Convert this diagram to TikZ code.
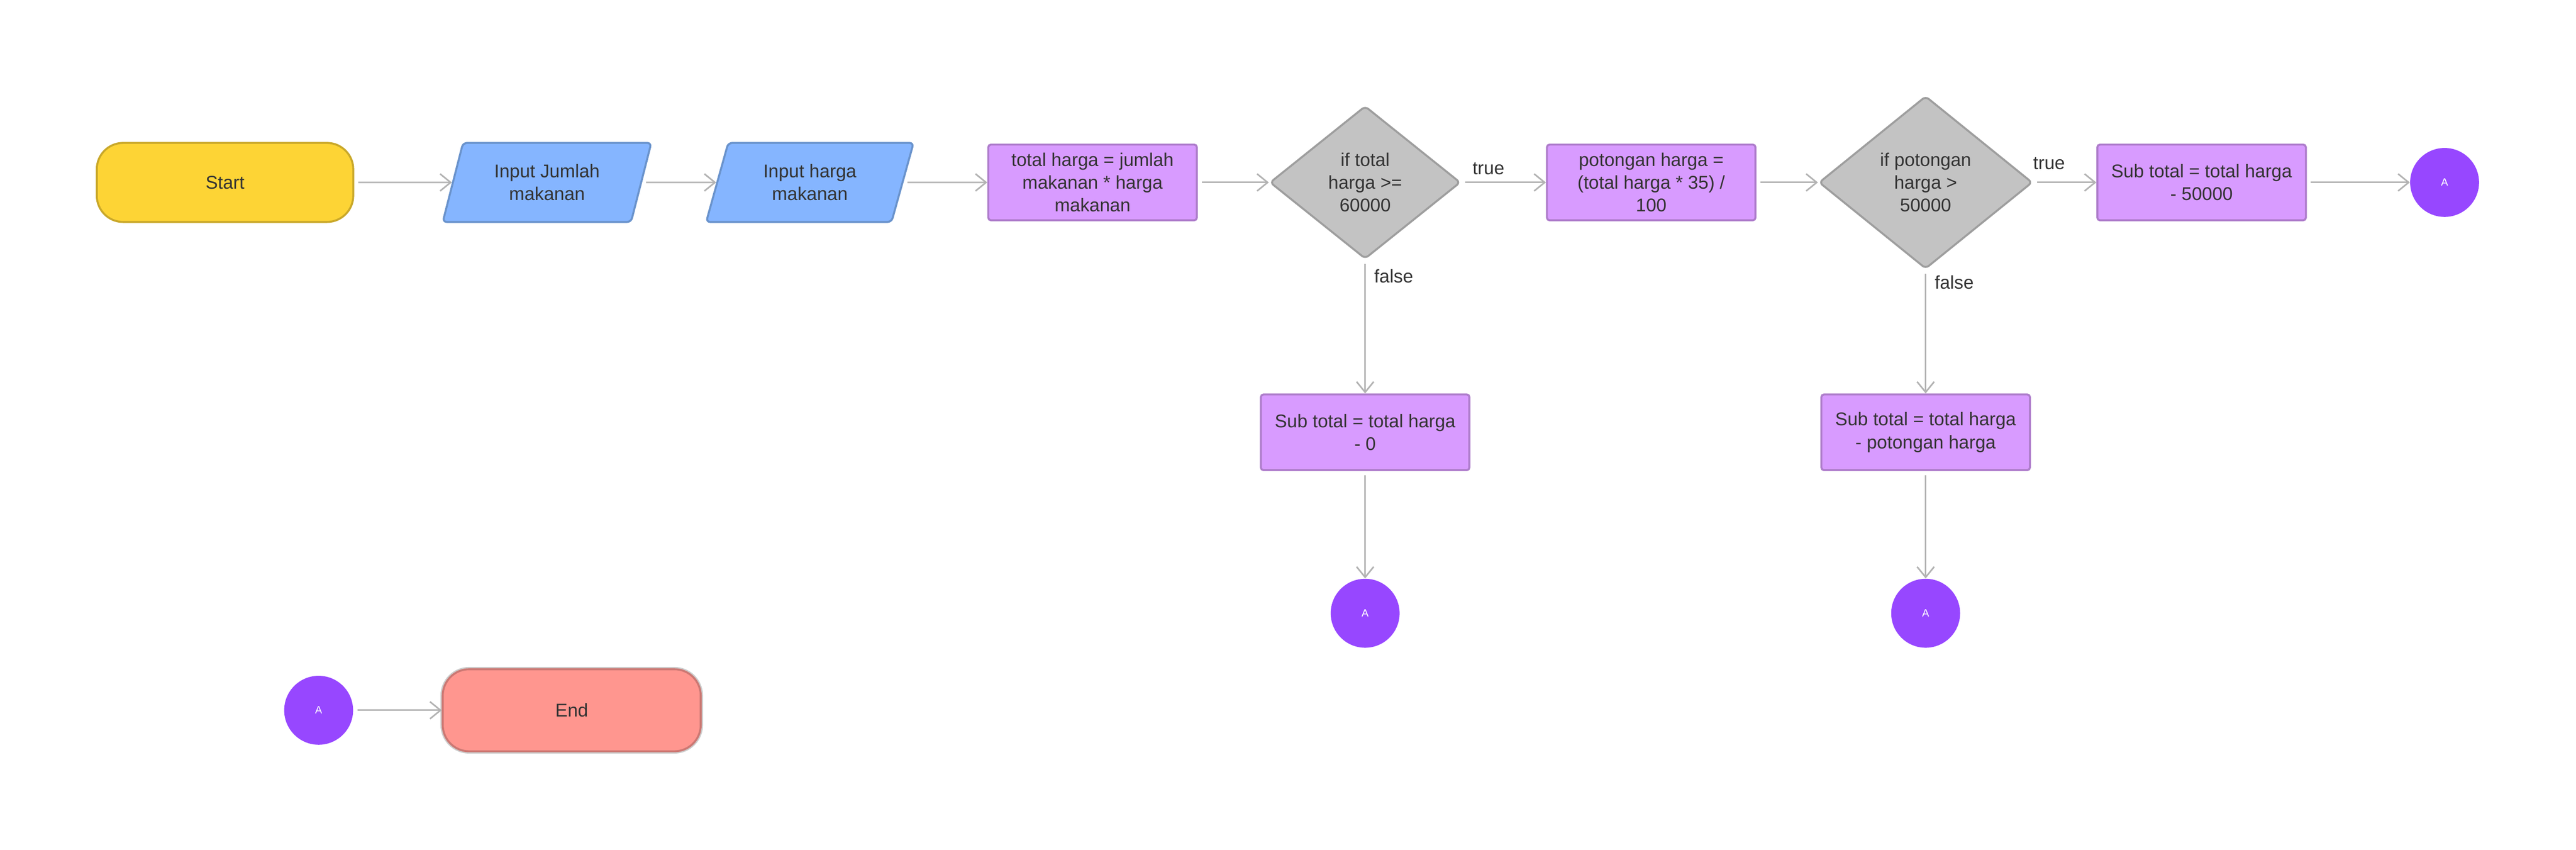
\documentclass[tikz,border=0pt]{standalone}
\usepackage{fontspec}
\setmainfont{Liberation Sans}
\usetikzlibrary{shapes.geometric, positioning, arrows.meta}
\definecolor{startfill}{HTML}{FDD435}
\definecolor{startline}{HTML}{C9A82A}
\definecolor{iofill}{HTML}{85B5FF}
\definecolor{ioline}{HTML}{6A93CC}
\definecolor{procfill}{HTML}{D89BFF}
\definecolor{procline}{HTML}{AE7DCB}
\definecolor{decfill}{HTML}{C3C3C3}
\definecolor{decline}{HTML}{9E9E9E}
\definecolor{connfill}{HTML}{9747FF}
\definecolor{endfill}{HTML}{FF968F}
\definecolor{endline}{HTML}{CC7873}
\definecolor{flowgray}{HTML}{B3B3B3}
\definecolor{txt}{HTML}{333333}
\tikzset{
>={Straight Barb[length=8pt, width=13pt]}, % open arrow heads
every node/.style={font=\fontsize{14}{17.3}\selectfont, text=txt, align=center}, % text of all nodes
terminal/.style={draw=startline, fill=startfill, line width=1.5pt, rounded corners=20pt, minimum width=6.85cm, minimum height=2.11cm},
io/.style={trapezium, trapezium left angle=73, trapezium right angle=107, trapezium stretches=true, draw=ioline, fill=iofill, line width=1.5pt, rounded corners=3pt, minimum width=5.57cm, minimum height=2.11cm},
process/.style={rectangle, draw=procline, fill=procfill, line width=1.5pt, rounded corners=2pt, minimum width=5.57cm, minimum height=2.02cm},
decision/.style={diamond, draw=decline, fill=decfill, line width=1.5pt, inner sep=0pt, rounded corners=3pt},
connector/.style={circle, fill=connfill, text=white, inner sep=0pt, minimum size=1.84cm, font=\fontsize{8}{9}\selectfont},
flow/.style={draw=flowgray, line width=1.2pt, ->, shorten <=3pt}, % the edges
}
\begin{document}
\begin{tikzpicture}
\useasboundingbox (0,0) rectangle (68.8,-22.68);

\node[terminal] (start) at (6.01,-4.87) {Start};
\node[io, right of=start, node distance=8.60cm] (injumlah) {Input Jumlah\\makanan};
\node[io, right of=injumlah, node distance=7.02cm] (inharga) {Input harga\\makanan};
\node[process, right of=inharga, node distance=7.55cm] (total) {total harga = jumlah\\makanan * harga\\makanan};
\node[decision, right of=total, node distance=7.28cm, minimum width=5.09cm, minimum height=4.08cm] (cek1) {if total\\harga >=\\60000};
\node[process, right of=cek1, node distance=7.64cm] (potong) {potongan harga =\\(total harga * 35) /\\100};
\node[decision, right of=potong, node distance=7.33cm, minimum width=5.70cm, minimum height=4.61cm] (cek2) {if potongan\\harga >\\50000};
\node[process, right of=cek2, node distance=7.37cm] (sub50) {Sub total = total harga\\- 50000};
\node[connector, right of=sub50, node distance=6.49cm] (a1) {A};

\node[process, below of=cek1, node distance=6.67cm] (sub0) {Sub total = total harga\\- 0};
\node[connector, below of=sub0, node distance=4.83cm] (a2) {A};
\node[process, below of=cek2, node distance=6.67cm] (subpot) {Sub total = total harga\\- potongan harga};
\node[connector, below of=subpot, node distance=4.83cm] (a3) {A};

\node[connector] (a4) at (8.51,-18.96) {A};
\node[terminal, right of=a4, node distance=6.76cm, draw=endline, fill=endfill, minimum width=6.89cm, minimum height=2.19cm, preaction={draw=black!20, line width=3.5pt}] (end) {End};

\draw
(start) edge[flow] (injumlah)
(injumlah) edge[flow] (inharga)
(inharga) edge[flow] (total)
(total) edge[flow] (cek1)
(cek1) edge[flow] node[above=2pt, pos=0.32] {true} (potong)
(cek1) edge[flow] node[right=3pt, pos=0.12] {false} (sub0)
(potong) edge[flow] (cek2)
(cek2) edge[flow] node[above=6pt, pos=0.25] {true} (sub50)
(cek2) edge[flow] node[right=3pt, pos=0.1] {false} (subpot)
(sub50) edge[flow] (a1)
(sub0) edge[flow] (a2)
(subpot) edge[flow] (a3)
(a4) edge[flow] (end)
;
\end{tikzpicture}
\end{document}
